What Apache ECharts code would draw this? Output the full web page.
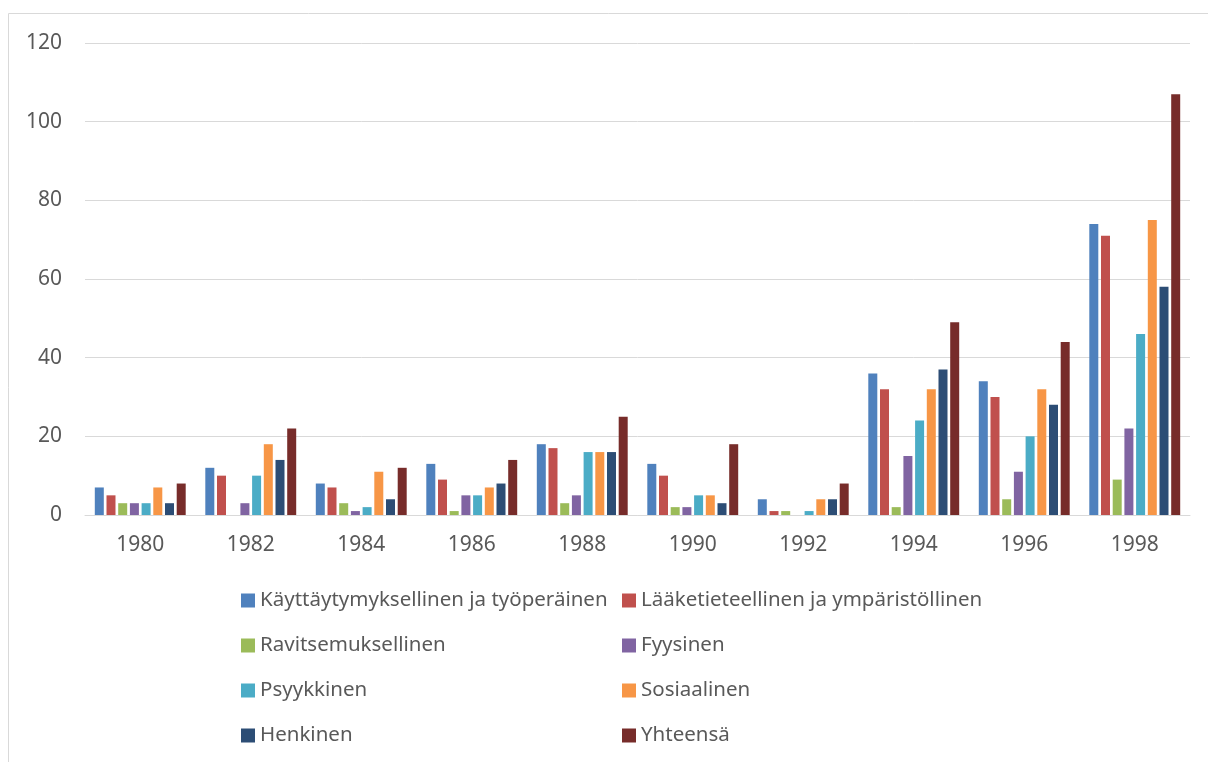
<!DOCTYPE html>
<html>
<head>
<meta charset="utf-8">
<script src="https://cdn.jsdelivr.net/npm/echarts@6/dist/echarts.min.js"></script>
<style>
html,body{margin:0;padding:0;background:#fff;}
#chart{width:1208px;height:762px;}
</style>
</head>
<body>
<div id="chart"></div>
<script>
const categories = ['1980','1982','1984','1986','1988','1990','1992','1994','1996','1998'];
const seriesNames = [
  'Käyttäytymyksellinen ja työperäinen',
  'Lääketieteellinen ja ympäristöllinen',
  'Ravitsemuksellinen',
  'Fyysinen',
  'Psyykkinen',
  'Sosiaalinen',
  'Henkinen',
  'Yhteensä'
];
const kayttaytymyksellinen = [7, 12, 8, 13, 18, 13, 4, 36, 34, 74];
const laaketieteellinen    = [5, 10, 7, 9, 17, 10, 1, 32, 30, 71];
const ravitsemuksellinen   = [3, 0, 3, 1, 3, 2, 1, 2, 4, 9];
const fyysinen             = [3, 3, 1, 5, 5, 2, 0, 15, 11, 22];
const psyykkinen           = [3, 10, 2, 5, 16, 5, 1, 24, 20, 46];
const sosiaalinen          = [7, 18, 11, 7, 16, 5, 4, 32, 32, 75];
const henkinen             = [3, 14, 4, 8, 16, 3, 4, 37, 28, 58];
const yhteensa             = [8, 22, 12, 14, 25, 18, 8, 49, 44, 107];
const seriesValues = [kayttaytymyksellinen, laaketieteellinen, ravitsemuksellinen, fyysinen, psyykkinen, sosiaalinen, henkinen, yhteensa];
const colors = ['#4F81BD','#C0504D','#9BBB59','#8064A2','#4BACC6','#F79646','#2C4D75','#772C2A'];

const FONT = 'Noto Sans';
const TXT = '#595959';

const chart = echarts.init(document.getElementById('chart'), null, {renderer:'canvas'});
const legendCommon = {
  orient: 'vertical',
  top: 590,
  padding: 0,
  itemWidth: 14,
  itemHeight: 14,
  itemGap: 24,
  icon: 'rect',
  selectedMode: false,
  textStyle: {color: TXT, fontFamily: FONT, fontSize: 20.5, lineHeight: 21}
};
chart.setOption({
  animation: false,
  color: colors,
  graphic: [
    {type:'line', shape:{x1:8.5, y1:13.5, x2:1208, y2:13.5}, style:{stroke:'#d9d9d9', lineWidth:1}},
    {type:'line', shape:{x1:8.5, y1:13.5, x2:8.5, y2:762}, style:{stroke:'#d9d9d9', lineWidth:1}}
  ],
  legend: [
    Object.assign({}, legendCommon, {left: 241, data: [seriesNames[0], seriesNames[2], seriesNames[4], seriesNames[6]]}),
    Object.assign({}, legendCommon, {left: 622, data: [seriesNames[1], seriesNames[3], seriesNames[5], seriesNames[7]]})
  ],
  grid: {left: 85, right: 18, top: 43, bottom: 247, containLabel: false},
  xAxis: {
    type: 'category',
    data: categories,
    axisLine: {lineStyle: {color: '#d9d9d9', width: 1}},
    axisTick: {show: false},
    axisLabel: {color: TXT, fontFamily: FONT, fontSize: 21, margin: 20}
  },
  yAxis: {
    type: 'value',
    min: 0, max: 120, interval: 20,
    axisLine: {show: false},
    axisTick: {show: false},
    splitLine: {lineStyle: {color: '#d9d9d9', width: 1}},
    axisLabel: {color: TXT, fontFamily: FONT, fontSize: 21, margin: 23}
  },
  series: seriesValues.map((vals, i) => ({
    name: seriesNames[i],
    type: 'bar',
    data: vals,
    barWidth: 9,
    barGap: '30%',
    itemStyle: {color: colors[i]}
  }))
});
</script>
</body>
</html>
